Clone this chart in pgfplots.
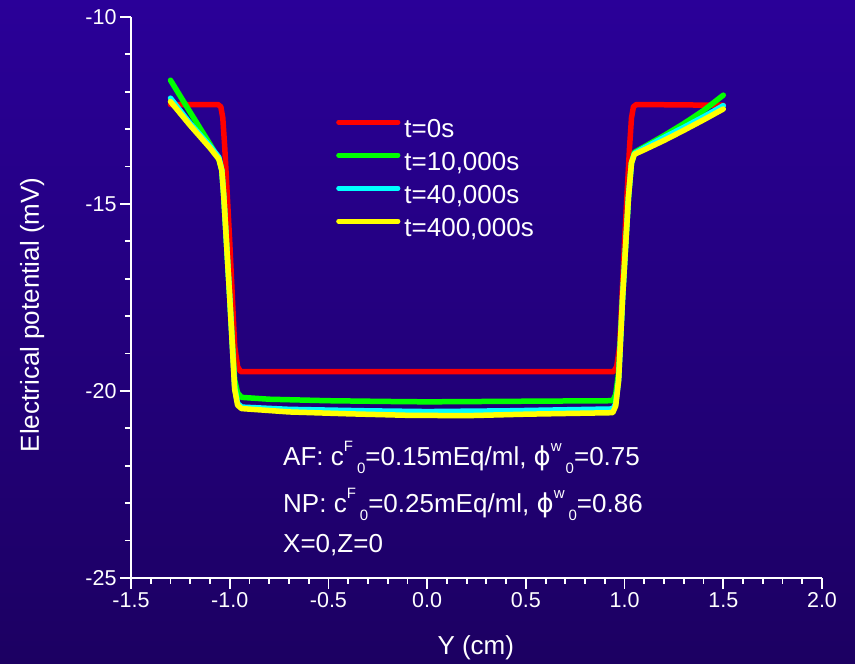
\documentclass[border=0pt]{standalone}
\usepackage{fontspec}
\setmainfont{Liberation Sans}
\newfontfamily\symfont{DejaVu Sans}
\usepackage{pgfplots}
\pgfplotsset{compat=1.18}
\definecolor{bgtop}{RGB}{42,0,152}
\definecolor{bgbot}{RGB}{28,0,98}
\definecolor{cCyan}{RGB}{0,255,255}
\definecolor{cGreen}{RGB}{0,255,0}
\definecolor{cYellow}{RGB}{255,255,0}
\definecolor{cRed}{RGB}{255,0,0}
\newcommand{\smallfont}{\fontsize{15bp}{15bp}\selectfont}
\newcommand{\sUp}[1]{\raisebox{14bp}{\smallfont #1}}
\newcommand{\sDn}[1]{\hspace{4bp}\raisebox{-8bp}{\smallfont #1}}
\newcommand{\phisym}{{\symfont ϕ}}
\begin{document}
\begin{tikzpicture}
\fill[top color=bgtop, bottom color=bgbot] (0,0) rectangle (855bp,664bp);
\begin{axis}[
 at={(131bp,86bp)}, anchor=south west,
 scale only axis, width=691bp, height=561bp,
 xmin=-1.5, xmax=2.0, ymin=-25, ymax=-10,
 axis x line*=bottom, axis y line*=left,
 axis line style={white, line width=1.8bp},
 xtick={-1.5,-1,-0.5,0,0.5,1,1.5,2},
 xticklabels={-1.5,-1.0,-0.5,0.0,0.5,1.0,1.5,2.0},
 ytick={-25,-20,-15,-10},
 yticklabels={-25,-20,-15,-10},
 minor x tick num=4, minor y tick num=4,
 tick align=outside,
 major tick length=11bp, minor tick length=6bp,
 every tick/.append style={white, line width=1.8bp},
 tick label style={white, font=\fontsize{21.5bp}{25bp}\selectfont},
 xlabel={Y (cm)}, ylabel={Electrical potential (mV)},
 label style={white, font=\fontsize{26bp}{31bp}\selectfont},
 xlabel style={at={(axis description cs:0.499,-0.125)}, anchor=center},
 ylabel style={at={(axis description cs:-0.143,0.469)}, anchor=center},
 clip=false,
 legend style={at={(axis description cs:0.2967,0.820)}, anchor=north west, draw=none, fill=none, text=white, font=\fontsize{26bp}{31bp}\selectfont, row sep=9bp, inner sep=0bp, nodes={inner sep=0bp, text height=19bp, text depth=5bp}, /tikz/every odd column/.append style={column sep=4bp}},
 legend cell align=left,
 legend image code/.code={\draw[#1, line width=4.7bp, line cap=round] (2.5bp,8bp) -- (62bp,8bp);},
]
\addplot[color=cRed, line width=5.5bp, line join=round, line cap=round] coordinates {
(-1.30,-12.34) (-1.06,-12.34) (-1.045,-12.40) (-1.035,-12.7) (-1.025,-13.5) (-1.00,-16) (-0.975,-18.8) (-0.96,-19.35) (-0.945,-19.48) (0,-19.48) (0.945,-19.48) (0.96,-19.35) (0.975,-18.8) (1.00,-16) (1.025,-13.5) (1.035,-12.7) (1.045,-12.40) (1.06,-12.34) (1.50,-12.36)
};
\addlegendentry{t=0s}
\addplot[color=cGreen, line width=5.5bp, line join=round, line cap=round] coordinates {
(-1.30,-11.69) (-1.20,-12.55) (-1.10,-13.40) (-1.055,-13.80) (-1.04,-14.1) (-1.03,-14.8) (-1.00,-17.5) (-0.975,-19.7) (-0.96,-20.05) (-0.94,-20.17) (-0.8,-20.22) (-0.5,-20.26) (-0.2,-20.28) (0,-20.29) (0.3,-20.28) (0.6,-20.27) (0.94,-20.26) (0.955,-20.1) (0.97,-19.5) (0.99,-17.5) (1.02,-14.8) (1.035,-13.9) (1.05,-13.62) (1.1,-13.47) (1.2,-13.17) (1.3,-12.85) (1.4,-12.5) (1.5,-12.09)
};
\addlegendentry{t=10,000s}
\addplot[color=cCyan, line width=5.5bp, line join=round, line cap=round] coordinates {
(-1.30,-12.17) (-1.2,-12.85) (-1.1,-13.45) (-1.055,-13.75) (-1.04,-14.1) (-1.03,-14.8) (-1.00,-17.5) (-0.975,-19.9) (-0.96,-20.33) (-0.94,-20.43) (-0.7,-20.49) (-0.3,-20.53) (0,-20.55) (0.4,-20.53) (0.94,-20.48) (0.955,-20.35) (0.97,-19.7) (0.99,-17.5) (1.02,-14.8) (1.035,-13.9) (1.05,-13.65) (1.1,-13.5) (1.2,-13.22) (1.3,-12.95) (1.4,-12.67) (1.5,-12.37)
};
\addlegendentry{t=40,000s}
\addplot[color=cYellow, line width=5.5bp, line join=round, line cap=round] coordinates {
(-1.30,-12.26) (-1.2,-12.9) (-1.1,-13.5) (-1.055,-13.8) (-1.04,-14.1) (-1.03,-14.8) (-1.00,-17.5) (-0.975,-19.95) (-0.96,-20.38) (-0.94,-20.47) (-0.7,-20.56) (-0.4,-20.61) (-0.1,-20.65) (0.2,-20.66) (0.5,-20.62) (0.94,-20.58) (0.955,-20.4) (0.97,-19.7) (0.99,-17.5) (1.02,-14.8) (1.035,-13.9) (1.05,-13.67) (1.1,-13.55) (1.2,-13.3) (1.3,-13.03) (1.4,-12.75) (1.5,-12.46)
};
\addlegendentry{t=400,000s}
\node[anchor=base west, white, font=\fontsize{26bp}{31bp}\selectfont, inner sep=0pt] at (axis cs:-0.730,-21.98) {AF: c\sUp{F}\sDn{0}=0.15mEq/ml, \phisym\sUp{w}\sDn{0}=0.75};
\node[anchor=base west, white, font=\fontsize{26bp}{31bp}\selectfont, inner sep=0pt] at (axis cs:-0.730,-23.26) {NP: c\sUp{F}\sDn{0}=0.25mEq/ml, \phisym\sUp{w}\sDn{0}=0.86};
\node[anchor=base west, white, font=\fontsize{26bp}{31bp}\selectfont, inner sep=0pt] at (axis cs:-0.730,-24.33) {X=0,Z=0};
\end{axis}
\pgfresetboundingbox
\path[use as bounding box] (0,0) rectangle (855bp,664bp);
\end{tikzpicture}
\end{document}
